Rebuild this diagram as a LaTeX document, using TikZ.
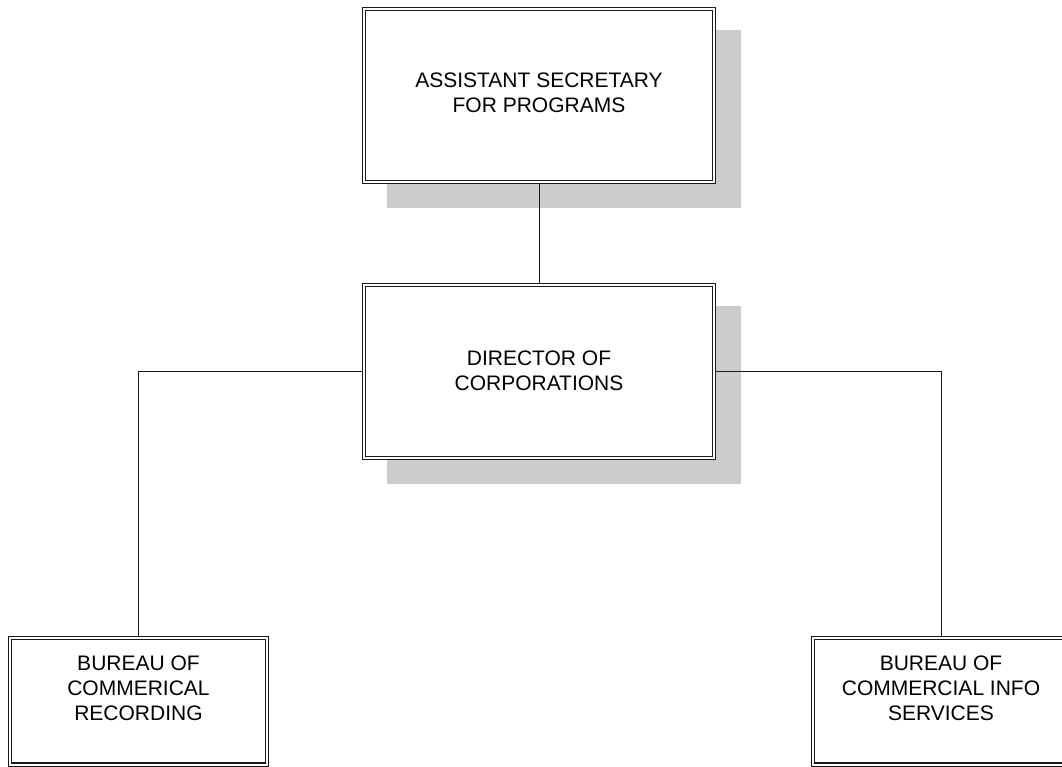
\documentclass[tikz,border=0pt]{standalone}
\usepackage{fontspec}
\setmainfont{Liberation Sans}
\usetikzlibrary{backgrounds,calc}
\definecolor{shadowgray}{HTML}{CCCCCC}
\definecolor{inkline}{HTML}{1A1A1A}
\tikzset{
  orgbox/.style={rectangle, draw=inkline, double=white, double distance=2pt,
    line width=1.2pt, fill=white, inner sep=0pt, outer sep=0pt},
  link/.style={draw=inkline, line width=1pt},
  boxshadow/.style={fill=shadowgray},
}
\newcommand{\boxtext}[4]{\parbox[c][#2][t]{#1}{\centering\fontsize{21}{25.3}\selectfont\vspace*{#3}#4}}
\begin{document}
\begin{tikzpicture}[x=1pt,y=-1pt]
\useasboundingbox (0,0) rectangle (1062,766);
\clip (0,0) rectangle (1062,766);

\node[orgbox] (asp) at (539,95.5)
  {\boxtext{349.6pt}{172.6pt}{63.8pt}{ASSISTANT SECRETARY\\FOR PROGRAMS}};
\node[orgbox] (dir) at (539,371.5)
  {\boxtext{349.6pt}{172.6pt}{65.3pt}{DIRECTOR OF\\CORPORATIONS}};
\node[orgbox] (bcr) at (138.5,701.4)
  {\boxtext{256.6pt}{126.4pt}{17.3pt}{BUREAU OF\\COMMERICAL\\RECORDING}};
\node[orgbox] (bcis) at (941,701.4)
  {\boxtext{256.6pt}{126.4pt}{17.3pt}{BUREAU OF\\COMMERCIAL INFO\\SERVICES}};

\begin{scope}[on background layer]
  \fill[boxshadow] ($(asp.north west)+(22.8,20.8)$) rectangle ($(asp.south east)+(27.2,26.2)$);
  \fill[boxshadow] ($(dir.north west)+(22.8,20.8)$) rectangle ($(dir.south east)+(27.2,26.2)$);
  \draw[link] (asp.south) -- (dir.north);
  \draw[link] (dir.west) -| (bcr.north);
  \draw[link] (dir.east) -| (bcis.north);
\end{scope}
\end{tikzpicture}
\end{document}
